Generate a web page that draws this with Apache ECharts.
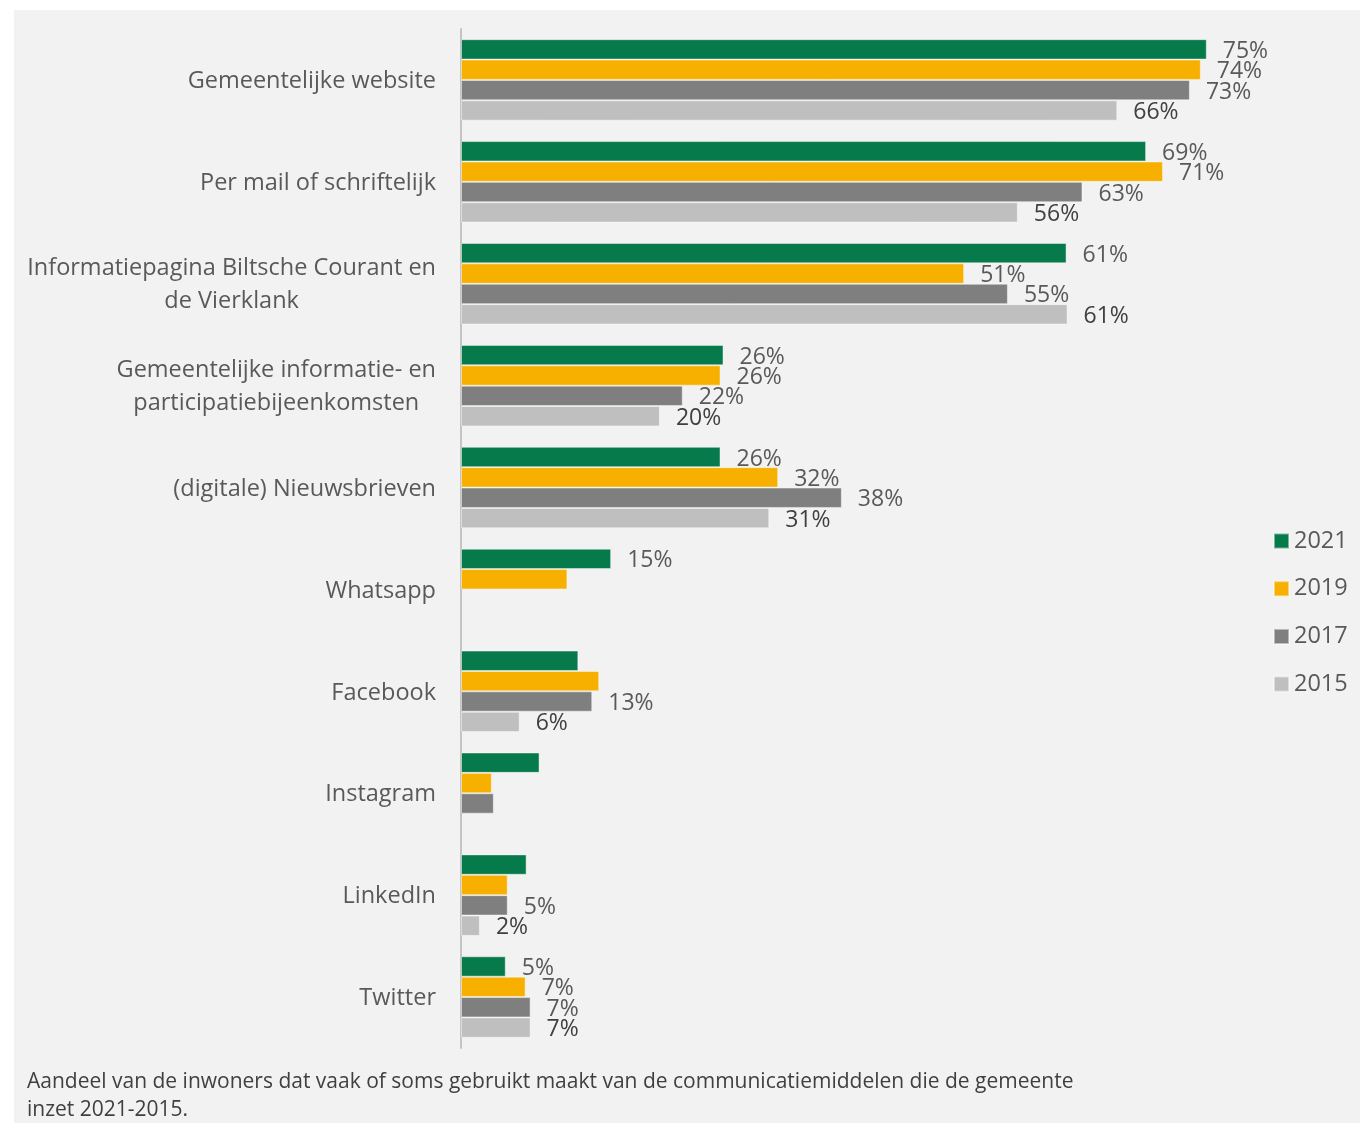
<!DOCTYPE html>
<html>
<head>
<meta charset="utf-8">
<script src="https://cdn.jsdelivr.net/npm/echarts@6/dist/echarts.min.js"></script>
<style>
html,body{margin:0;padding:0;background:#ffffff;}
#chart{width:1360px;height:1123px;}
</style>
</head>
<body>
<div id="chart"></div>
<script>
const categories = [
  'Gemeentelijke website',
  'Per mail of schriftelijk',
  'Informatiepagina Biltsche Courant en\nde Vierklank',
  'Gemeentelijke informatie- en\nparticipatiebijeenkomsten',
  '(digitale) Nieuwsbrieven',
  'Whatsapp',
  'Facebook',
  'Instagram',
  'LinkedIn',
  'Twitter'
];
const seriesNames = ['2021', '2019', '2017', '2015'];
const values2021 = [75, 68.9, 60.9, 26.4, 26.1, 15.1, 11.8, 7.9, 6.6, 4.5];
const values2019 = [74.4, 70.6, 50.6, 26.1, 31.9, 10.7, 13.9, 3.1, 4.7, 6.5];
const values2017 = [73.3, 62.5, 55, 22.3, 38.3, null, 13.2, 3.3, 4.7, 7];
const values2015 = [66, 56, 61, 20, 31, null, 5.9, null, 1.9, 7];
// category indices whose bar carries a value label
const labeled2021 = [0, 1, 2, 3, 4, 5, 9];
const labeled2019 = [0, 1, 2, 3, 4, 9];
const labeled2017 = [0, 1, 2, 3, 4, 6, 8, 9];
const labeled2015 = [0, 1, 2, 3, 4, 6, 8, 9];
const caption = 'Aandeel van de inwoners dat vaak of soms gebruikt maakt van de communicatiemiddelen die de gemeente\ninzet 2021-2015.';

const colors = ['#077a4b', '#f7b000', '#7f7f7f', '#bfbfbf'];
const labelColors = ['#595959', '#595959', '#595959', '#404040'];
const allValues = [values2021, values2019, values2017, values2015];
const allLabeled = [labeled2021, labeled2019, labeled2017, labeled2015];
const FONT = '"Open Sans", "Noto Sans", sans-serif';

const chart = echarts.init(document.getElementById('chart'), null, {renderer: 'canvas'});

const series = seriesNames.map((name, s) => ({
  name: name,
  type: 'bar',
  barGap: '0%',
  barCategoryGap: '20%',
  itemStyle: {color: colors[s], borderColor: 'rgba(255,255,255,0.45)', borderWidth: 1},
  label: {
    show: true,
    position: 'right',
    distance: 16,
    offset: [0, 2],
    fontFamily: FONT,
    fontSize: 23,
    color: labelColors[s],
    formatter: p => Math.round(p.value) + '%'
  },
  data: allValues[s].map((v, i) => ({
    value: v === null ? '-' : v,
    label: {show: allLabeled[s].indexOf(i) >= 0}
  }))
}));

chart.setOption({
  backgroundColor: '#ffffff',
  animation: false,
  color: colors,
  graphic: [
    {type: 'rect', left: 14, top: 10, z: -100, silent: true,
     shape: {width: 1346, height: 1113}, style: {fill: '#f2f2f2'}},
    {type: 'text', left: 27, top: 1068, silent: true,
     style: {text: caption, font: '21px ' + FONT, fill: '#404040', lineHeight: 28}}
  ],
  legend: {
    orient: 'vertical',
    left: 1273,
    top: 529,
    padding: 0,
    itemWidth: 15,
    itemHeight: 15,
    itemGap: 23.7,
    icon: 'rect',
    data: seriesNames,
    textStyle: {fontFamily: FONT, fontSize: 23.5, color: '#595959'}
  },
  grid: {left: 461, top: 29, right: 103.5, bottom: 75, containLabel: false},
  xAxis: {
    type: 'value', min: 0, max: 80, show: false
  },
  yAxis: {
    type: 'category',
    inverse: true,
    data: categories,
    axisLine: {show: true, lineStyle: {color: '#c4c4c4', width: 2}},
    axisTick: {show: false},
    axisLabel: {
      margin: 25,
      fontFamily: FONT,
      fontSize: 23.5,
      color: '#595959',
      lineHeight: 33,
      padding: [3, 0, 0, 0],
      formatter: v => v.split('\n').map(l => '{c|' + l + '}').join('\n'),
      rich: {c: {align: 'center', fontFamily: FONT, fontSize: 23.5, color: '#595959', lineHeight: 33}}
    }
  },
  series: series
});
</script>
</body>
</html>
